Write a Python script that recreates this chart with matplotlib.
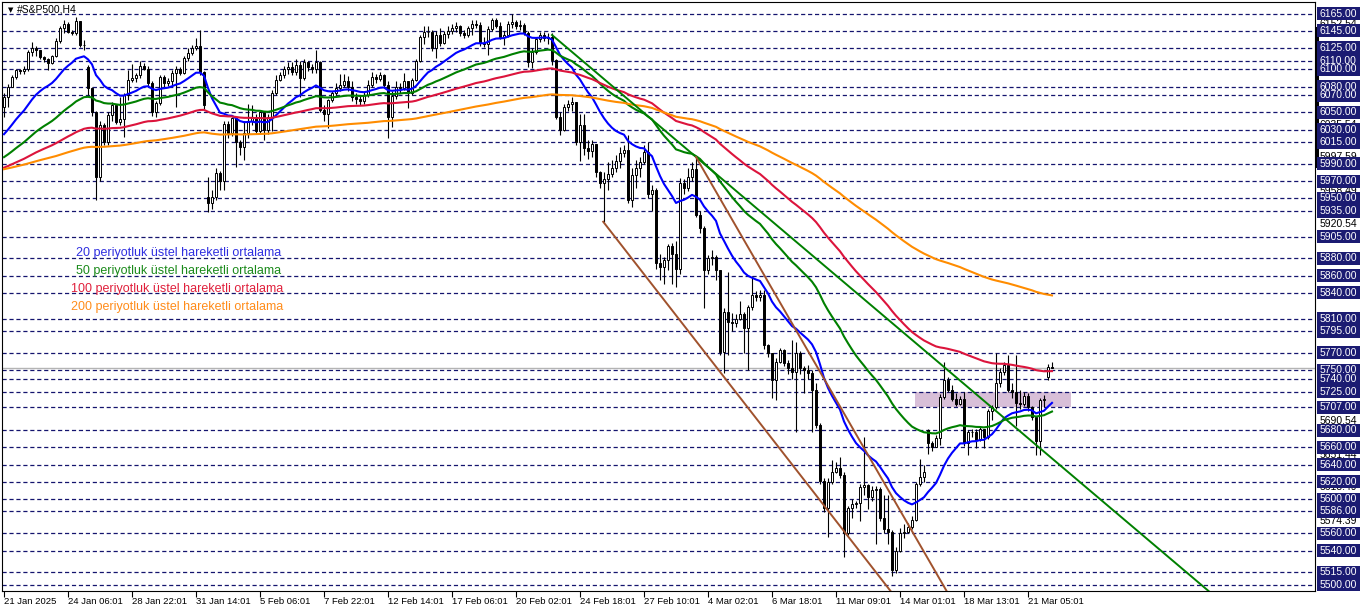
import matplotlib
matplotlib.use("Agg")
import matplotlib.pyplot as plt
import matplotlib.transforms as mtransforms
from matplotlib.patches import Rectangle

plt.rcParams["font.family"] = ["Liberation Sans", "DejaVu Sans"]
plt.rcParams["lines.scale_dashes"] = False

# H4 candles (close / high / low), open = previous close
closes = [
    6068, 6080, 6091, 6099, 6098, 6100, 6120, 6125, 6123, 6114,
    6112, 6107, 6115, 6133, 6148, 6153, 6144, 6142, 6156, 6128,
    6128, 6078, 6050, 5975, 6035, 6016, 6047, 6058, 6039, 6042,
    6070, 6088, 6090, 6093, 6104, 6101, 6084, 6050, 6061, 6091,
    6084, 6086, 6096, 6100, 6096, 6113, 6119, 6125, 6127, 6097,
    6058, 5944, 5952, 5979, 5970, 6037, 6026, 6043, 6015, 6010,
    6026, 6040, 6045, 6028, 6050, 6029, 6044, 6073, 6088, 6094,
    6100, 6103, 6097, 6105, 6090, 6108, 6103, 6100, 6108, 6053,
    6048, 6064, 6072, 6078, 6082, 6086, 6080, 6068, 6066, 6063,
    6070, 6082, 6091, 6089, 6093, 6082, 6045, 6069, 6080, 6078,
    6087, 6072, 6088, 6110, 6138, 6143, 6144, 6125, 6140, 6131,
    6141, 6145, 6148, 6150, 6142, 6140, 6148, 6153, 6152, 6131,
    6130, 6147, 6157, 6150, 6138, 6140, 6153, 6155, 6150, 6152,
    6142, 6108, 6120, 6135, 6140, 6137, 6138, 6111, 6045, 6030,
    6056, 6060, 6062, 6016, 6035, 6008, 6005, 6013, 5980, 5968,
    5973, 5978, 5985, 5993, 6003, 6006, 5948, 5977, 5985, 5992,
    6004, 5955, 5960, 5875, 5870, 5878, 5894, 5885, 5868, 5968,
    5962, 5975, 5984, 5931, 5915, 5867, 5880, 5882, 5866, 5771,
    5818, 5806, 5805, 5810, 5815, 5799, 5823, 5837, 5835, 5838,
    5779, 5770, 5739, 5760, 5773, 5758, 5752, 5748, 5770, 5752,
    5750, 5747, 5727, 5686, 5621, 5590, 5620, 5632, 5636, 5628,
    5560, 5590, 5594, 5595, 5614, 5616, 5602, 5610, 5612, 5578,
    5565, 5562, 5518, 5540, 5560, 5562, 5568, 5576, 5618, 5626,
    5632, 5665, 5661, 5671, 5719, 5739, 5727, 5717, 5711, 5717,
    5665, 5678, 5678, 5669, 5681, 5672, 5702, 5707, 5735, 5748,
    5756, 5727, 5725, 5712, 5711, 5720, 5707, 5696, 5667, 5715,
    5717, 5754, 5753,
]
highs = [
    6072, 6083, 6094, 6101, 6101, 6104, 6123, 6132, 6127, 6121,
    6116, 6113, 6117, 6136, 6151, 6158, 6155, 6146, 6161, 6156,
    6134, 6105, 6080, 6052, 6040, 6038, 6050, 6062, 6060, 6068,
    6072, 6099, 6106, 6096, 6110, 6107, 6104, 6086, 6063, 6094,
    6093, 6090, 6099, 6104, 6103, 6116, 6125, 6128, 6137, 6146,
    6098, 5975, 5960, 5985, 5982, 6040, 6040, 6045, 6045, 6018,
    6040, 6060, 6058, 6048, 6052, 6045, 6048, 6076, 6093, 6097,
    6104, 6109, 6108, 6112, 6110, 6112, 6110, 6106, 6123, 6110,
    6058, 6066, 6075, 6084, 6095, 6095, 6092, 6086, 6072, 6070,
    6074, 6088, 6097, 6095, 6097, 6095, 6086, 6075, 6086, 6084,
    6096, 6085, 6090, 6112, 6140, 6150, 6150, 6146, 6145, 6148,
    6145, 6150, 6153, 6155, 6152, 6146, 6150, 6158, 6158, 6155,
    6138, 6150, 6160, 6160, 6155, 6145, 6156, 6165, 6158, 6157,
    6154, 6145, 6125, 6138, 6143, 6143, 6142, 6142, 6112, 6050,
    6060, 6064, 6068, 6062, 6048, 6048, 6018, 6018, 6010, 5982,
    5980, 5992, 5995, 6000, 6010, 6012, 6024, 5985, 5995, 5998,
    6012, 6016, 5965, 5962, 5885, 5882, 5897, 5898, 5900, 5974,
    5972, 5985, 5992, 5998, 5935, 5918, 5884, 5890, 5884, 5866,
    5822, 5864, 5816, 5815, 5830, 5818, 5826, 5860, 5842, 5843,
    5843, 5780, 5770, 5764, 5776, 5775, 5762, 5785, 5783, 5772,
    5755, 5756, 5750, 5735, 5688, 5624, 5625, 5645, 5643, 5649,
    5632, 5592, 5600, 5598, 5617, 5672, 5618, 5615, 5615, 5614,
    5605, 5605, 5564, 5544, 5566, 5571, 5572, 5580, 5620, 5647,
    5640, 5682, 5667, 5674, 5722, 5760, 5742, 5733, 5723, 5720,
    5725, 5680, 5682, 5682, 5684, 5682, 5705, 5710, 5770, 5752,
    5760, 5768, 5735, 5768, 5727, 5724, 5723, 5708, 5697, 5718,
    5721, 5757, 5760,
]
lows = [
    6045, 6056, 6079, 6089, 6095, 6095, 6098, 6116, 6115, 6112,
    6109, 6099, 6106, 6114, 6131, 6142, 6142, 6140, 6140, 6126,
    6122, 6070, 6046, 5948, 5970, 6012, 6012, 6040, 6036, 6035,
    6021, 6064, 6085, 6085, 6090, 6099, 6080, 6046, 6044, 6058,
    6080, 6081, 6082, 6056, 6094, 6095, 6110, 6117, 6122, 6093,
    6054, 5934, 5938, 5948, 5960, 5960, 6020, 6022, 5986, 6000,
    5995, 6020, 6035, 6025, 6026, 6018, 6025, 6028, 6070, 6086,
    6090, 6095, 6094, 6093, 6068, 6088, 6098, 6096, 6096, 6050,
    6040, 6032, 6062, 6070, 6075, 6080, 6075, 6063, 6060, 6058,
    6060, 6068, 6080, 6084, 6086, 6078, 6020, 6033, 6065, 6072,
    6076, 6055, 6070, 6086, 6108, 6130, 6138, 6121, 6113, 6127,
    6129, 6137, 6141, 6143, 6139, 6136, 6138, 6140, 6148, 6127,
    6126, 6117, 6145, 6148, 6135, 6128, 6138, 6148, 6147, 6146,
    6140, 6103, 6102, 6118, 6132, 6133, 6130, 6105, 6042, 6024,
    6028, 6052, 6052, 6012, 5993, 6000, 5996, 5998, 5975, 5962,
    5922, 5960, 5975, 5980, 5985, 5998, 5944, 5940, 5962, 5975,
    5990, 5950, 5935, 5868, 5855, 5850, 5866, 5850, 5847, 5862,
    5955, 5958, 5970, 5928, 5910, 5822, 5862, 5872, 5855, 5768,
    5747, 5768, 5795, 5800, 5808, 5770, 5750, 5820, 5830, 5830,
    5775, 5765, 5718, 5715, 5758, 5755, 5745, 5740, 5678, 5745,
    5723, 5740, 5678, 5683, 5618, 5585, 5556, 5618, 5630, 5625,
    5533, 5558, 5578, 5590, 5575, 5605, 5588, 5598, 5548, 5575,
    5560, 5548, 5510, 5514, 5538, 5555, 5560, 5565, 5574, 5615,
    5620, 5653, 5656, 5660, 5663, 5717, 5724, 5714, 5708, 5709,
    5662, 5651, 5672, 5659, 5668, 5659, 5670, 5692, 5705, 5730,
    5744, 5724, 5718, 5685, 5705, 5708, 5703, 5692, 5651, 5651,
    5707, 5738, 5752,
]
first_open = 6056
# weekend gaps: bar index -> open
gap_opens = {21: 6103, 51: 5951, 231: 5680, 261: 5742}

ema_periods = [20, 50, 100, 200]
ema_colors = ["#0000ff", "#008000", "#dc143c", "#ff8c00"]
# EMA values at the left edge of the chart
ema_seeds = [6020, 5995, 5984, 5983]
ema_labels = [
    "20 periyotluk üstel hareketli ortalama",
    "50 periyotluk üstel hareketli ortalama",
    "100 periyotluk üstel hareketli ortalama",
    "200 periyotluk üstel hareketli ortalama",
]
label_colors = ["#2f2fe0", "#1a8a1a", "#e0203c", "#ff8c1a"]

level_prices = [6165, 6145, 6125, 6110, 6100, 6080, 6070, 6050, 6030, 6015,
                5990, 5970, 5950, 5935, 5905, 5880, 5860, 5840, 5810, 5795,
                5770, 5750, 5740, 5725, 5707, 5680, 5660, 5640, 5620, 5600,
                5586, 5560, 5540, 5515, 5500]
# automatic scale labels that peek out between the level boxes
scale_prices = [6152.54, 6035.54, 5997.59, 5958.49, 5920.54, 5690.54,
                5651.44, 5613.49, 5574.39, 5536.44]
bid_price = 5753

time_labels = ["21 Jan 2025", "24 Jan 06:01", "28 Jan 22:01", "31 Jan 14:01",
               "5 Feb 06:01", "7 Feb 22:01", "12 Feb 14:01", "17 Feb 06:01",
               "20 Feb 02:01", "24 Feb 18:01", "27 Feb 10:01", "4 Mar 02:01",
               "6 Mar 18:01", "11 Mar 09:01", "14 Mar 01:01", "18 Mar 13:01",
               "21 Mar 05:01"]
bars_per_label = 16

# trend lines: (bar, price) -> (bar, price), drawn as rays
trend_lines = [
    (137.0, 6140.0, 300.25, 5496.5, "#008000"),
    (173.0, 5998.0, 235.25, 5496.2, "#a0522d"),
    (149.8, 5922.7, 221.1, 5496.2, "#a0522d"),
]
zone = (227.75, 266.75, 5707, 5725)

W, H = 1362, 611


def build_opens():
    opens = [first_open]
    for i in range(1, len(closes)):
        if i in gap_opens:
            opens.append(gap_opens[i])
        else:
            opens.append(closes[i - 1])
    return opens


def ema(values, period, seed):
    alpha = 2.0 / (period + 1)
    out = []
    prev = seed
    for v in values:
        prev = prev + alpha * (v - prev)
        out.append(prev)
    return out


def main():
    fig = plt.figure(figsize=(W / 100, H / 100), dpi=100)
    ax = fig.add_axes([2 / W, 20 / H, 1313 / W, 589 / H])
    ax.set_xlim(-0.5, 327.75)
    ax.set_ylim(5493.0, 6178.4)
    ax.set_facecolor("white")

    n = len(closes)
    xs = list(range(n))
    opens = build_opens()
    hi = [max(highs[i], opens[i], closes[i]) for i in xs]
    lo = [min(lows[i], opens[i], closes[i]) for i in xs]

    # background zone
    ax.add_patch(Rectangle((zone[0], zone[2]), zone[1] - zone[0], zone[3] - zone[2],
                           facecolor="#d8bfd8", edgecolor="none", zorder=1))

    # dashed horizontal levels
    for p in level_prices:
        ax.axhline(p, color="#14146e", linewidth=0.9, dashes=(3, 2), zorder=1.5)
    ax.axhline(bid_price, color="#b4b4b4", linewidth=1.0, zorder=1.6)

    # candles
    ax.vlines(xs, lo, hi, colors="black", linewidth=0.8, zorder=3)
    bottoms = [min(opens[i], closes[i]) for i in xs]
    heights = [max(abs(closes[i] - opens[i]), 0.6) for i in xs]
    fills = ["white" if closes[i] >= opens[i] else "black" for i in xs]
    ax.bar(xs, heights, width=0.62, bottom=bottoms, color=fills,
           edgecolor="black", linewidth=0.7, zorder=4)

    # moving averages
    for period, color, seed in zip(ema_periods, ema_colors, ema_seeds):
        ax.plot(xs, ema(closes, period, seed), color=color, linewidth=1.5, zorder=5)

    # trend lines
    for b0, p0, b1, p1, color in trend_lines:
        slope = (p1 - p0) / (b1 - b0)
        b_end = 340
        ax.plot([b0, b_end], [p0, p0 + slope * (b_end - b0)], color=color,
                linewidth=1.4, zorder=6)

    # axes styling
    for s in ax.spines.values():
        s.set_color("black")
        s.set_linewidth(0.8)
    ax.set_yticks([])
    ax.set_xticks([bars_per_label * k for k in range(len(time_labels))])
    ax.set_xticklabels(time_labels)
    ax.tick_params(axis="x", length=4, width=0.8, pad=0.5, labelsize=6.8,
                   direction="out", colors="black")
    for lbl in ax.get_xticklabels():
        lbl.set_horizontalalignment("left")

    # right price scale
    blend = mtransforms.blended_transform_factory(ax.transAxes, ax.transData)
    for p in scale_prices:
        ax.text(1.0038, p, "%.2f" % p, transform=blend, va="center", ha="left",
                fontsize=7.5, color="black", clip_on=False, zorder=8)
    ax.plot([1.0012, 1.0012], [6148, 5988], transform=blend, color="black",
            linewidth=2.2, clip_on=False, zorder=8)
    box_h = 13 * (6178.4 - 5493.0) / 589
    for p in level_prices:
        ax.add_patch(Rectangle((1.0015, p - box_h / 2), 0.03275, box_h,
                               transform=blend, facecolor="#1b1b72",
                               edgecolor="none", clip_on=False, zorder=9))
        ax.text(1.0038, p, "%.2f" % p, transform=blend, va="center", ha="left",
                fontsize=7.5, color="white", clip_on=False, zorder=10)

    # title and EMA captions
    fig.text(8 / W, 1 - 10 / H, "▼", fontsize=5, family="DejaVu Sans", va="center")
    fig.text(17 / W, 1 - 10 / H, "#S&P500,H4", fontsize=7.5, va="center")
    label_x = [76, 76, 71, 71]
    label_y = [253, 271, 289, 307]
    for txt, color, lx, ly in zip(ema_labels, label_colors, label_x, label_y):
        fig.text(lx / W, 1 - ly / H, txt, fontsize=9, color=color, va="center")

    fig.savefig("out.png", dpi=100, facecolor="white")
    plt.close(fig)


main()
